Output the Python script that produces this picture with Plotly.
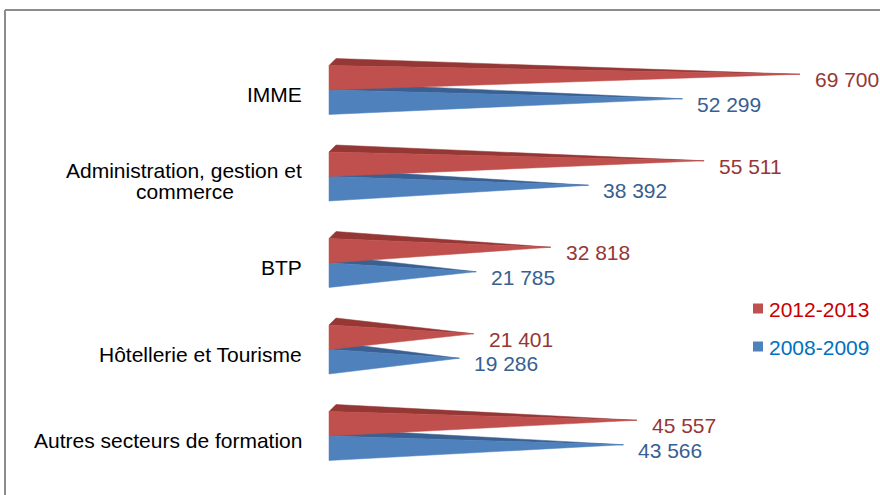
import plotly.graph_objects as go

# ---- data ----
categories = ["IMME", "Administration, gestion et<br>commerce", "BTP",
              "Hôtellerie et Tourisme", "Autres secteurs de formation"]
series_names = ["2012-2013", "2008-2009"]
values_2012 = [69700, 55511, 32818, 21401, 45557]
values_2008 = [52299, 38392, 21785, 19286, 43566]

# ---- styling / geometry constants ----
W, H = 880, 495
X0_PX = 329.0                       # pixel of value 0
PX_PER_UNIT = 471.0 / 69700.0       # x scale (px per value unit)
CAT_PX = 86.5                       # pixel spacing between categories
CAT0_PX = 90.0                      # pixel of first category divider
BAR_PX = 24.5                       # bar thickness in px
DEPTH_PX = 7.0                      # 3D depth offset in px
LABEL_GAP_PX = 25                   # gap between labels and bar base
LINE_PX = 21                        # line spacing of wrapped labels
WRAP_W_PX = 238                     # width of first wrapped line

X_RANGE = [-X0_PX / PX_PER_UNIT, (W - X0_PX) / PX_PER_UNIT]
Y_RANGE = [(H - CAT0_PX) / CAT_PX, -CAT0_PX / CAT_PX]   # reversed
T = BAR_PX / CAT_PX
DY = DEPTH_PX / CAT_PX
DX = DEPTH_PX / PX_PER_UNIT

FONT = "Liberation Sans, Arial, sans-serif"
FS = 21
front_colors = {"2012-2013": "#C0504D", "2008-2009": "#4F81BD"}
top_colors = {"2012-2013": "#953735", "2008-2009": "#3A6092"}
label_colors = {"2012-2013": "#953735", "2008-2009": "#376092"}
legend_text_colors = {"2012-2013": "#C80000", "2008-2009": "#0070C0"}

fig = go.Figure()
annotations = []


def pyramid(i, v, name, upper):
    if upper:
        y_top, y_bot = i - T, i
    else:
        y_top, y_bot = i, i + T
    yc = (y_top + y_bot) / 2
    apex = (v, yc - DY / 2)
    # top face (darker)
    fig.add_trace(go.Scatter(
        x=[0, DX, apex[0], 0], y=[y_top, y_top - DY, apex[1], y_top],
        fill="toself", mode="lines", fillcolor=top_colors[name],
        line=dict(color=top_colors[name], width=0.5),
        hoverinfo="skip", showlegend=False))
    # front face
    fig.add_trace(go.Scatter(
        x=[0, 0, apex[0], 0], y=[y_top, y_bot, apex[1], y_top],
        fill="toself", mode="lines", fillcolor=front_colors[name],
        line=dict(color=front_colors[name], width=0.5),
        hoverinfo="text", text=f"{name}: {v}", showlegend=False))
    annotations.append(dict(
        x=v, y=yc, xref="x", yref="y", xanchor="left", yanchor="middle",
        xshift=13, yshift=-2, showarrow=False,
        text=f"{v:,}".replace(",", " "),
        font=dict(family=FONT, size=FS, color=label_colors[name])))


# draw lower (blue) first so red front face overlaps blue top face
for i, v in enumerate(values_2008):
    pyramid(i, v, "2008-2009", upper=False)
for i, v in enumerate(values_2012):
    pyramid(i, v, "2012-2013", upper=True)

# category labels (wrapped lines placed individually, centred as a block)
for i, c in enumerate(categories):
    lines = c.split("<br>")
    n = len(lines)
    for k, line in enumerate(lines):
        off = (k - (n - 1) / 2) * LINE_PX   # px below block centre
        if k == 0:
            xa, xs = "right", -LABEL_GAP_PX
        else:
            xa, xs = "center", -LABEL_GAP_PX - WRAP_W_PX / 2
        annotations.append(dict(
            x=0, y=i, xref="x", yref="y", xanchor=xa, yanchor="middle",
            xshift=xs, yshift=-4.5 - off, showarrow=False, text=line,
            font=dict(family=FONT, size=FS, color="#000000")))

# legend (custom)
shapes = []
legend_rows = [("2012-2013", 308.5), ("2008-2009", 346.5)]
for name, ypx in legend_rows:
    shapes.append(dict(type="rect", xref="paper", yref="paper",
                       x0=753 / W, x1=763 / W,
                       y0=1 - (ypx + 5) / H, y1=1 - (ypx - 5) / H,
                       fillcolor=front_colors[name], line=dict(width=0)))
    annotations.append(dict(
        x=767 / W, y=1 - (ypx + 1) / H, xref="paper", yref="paper",
        xanchor="left", yanchor="middle", showarrow=False, text=name,
        font=dict(family=FONT, size=FS, color=legend_text_colors[name])))

# chart border (top and left visible)
shapes.append(dict(type="line", xref="paper", yref="paper",
                   x0=5 / W, x1=1, y0=1 - 10 / H, y1=1 - 10 / H,
                   line=dict(color="#8C8C8C", width=2)))
shapes.append(dict(type="line", xref="paper", yref="paper",
                   x0=5 / W, x1=5 / W, y0=0, y1=1 - 10 / H,
                   line=dict(color="#8C8C8C", width=2)))

fig.update_layout(
    width=W, height=H, margin=dict(l=0, r=0, t=0, b=0),
    paper_bgcolor="white", plot_bgcolor="white",
    xaxis=dict(range=X_RANGE, visible=False, fixedrange=True),
    yaxis=dict(range=Y_RANGE, visible=False, fixedrange=True),
    annotations=annotations, shapes=shapes, showlegend=False,
)

fig.write_html(
    "out.html",
    config={"displayModeBar": False},
    post_script="document.body.style.margin='0';document.body.style.overflow='hidden';",
)
